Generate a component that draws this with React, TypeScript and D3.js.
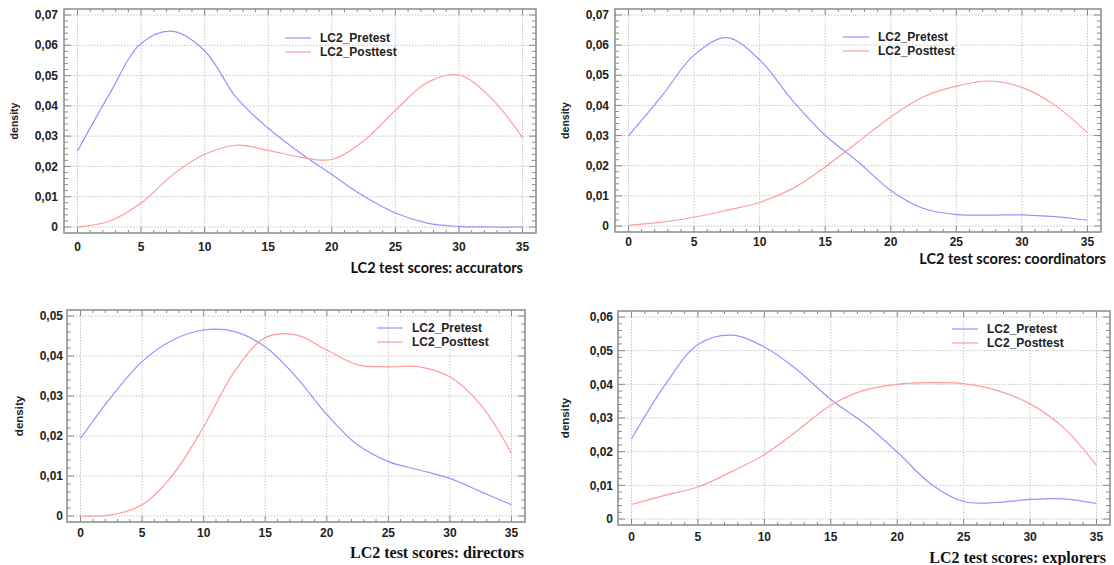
import * as d3 from 'd3'

// score grid shared by all density curves
const scores = [0, 2.5, 5, 7.5, 10, 12.5, 15, 17.5, 20, 22.5, 25, 27.5, 30, 32.5, 35]
const xTicks = [0, 5, 10, 15, 20, 25, 30, 35]
const seriesNames = ['LC2_Pretest', 'LC2_Posttest']

const accuratorsPre = [0.0251, 0.0438, 0.0606, 0.0646, 0.0582, 0.0427, 0.0326, 0.0245, 0.0173, 0.0102, 0.0046, 0.0013, 0.0002, 0, 0]
const accuratorsPost = [0, 0.0019, 0.0079, 0.0173, 0.024, 0.027, 0.0253, 0.0231, 0.0223, 0.0284, 0.0385, 0.0477, 0.0502, 0.0427, 0.0295]

const coordinatorsPre = [0.0299, 0.0429, 0.0567, 0.0625, 0.0551, 0.0417, 0.0301, 0.0213, 0.0118, 0.0058, 0.0038, 0.0036, 0.0037, 0.0031, 0.0019]
const coordinatorsPost = [0.0002, 0.0013, 0.0029, 0.0052, 0.0078, 0.0124, 0.0196, 0.0279, 0.0362, 0.0429, 0.0464, 0.0481, 0.046, 0.0401, 0.0309]

const directorsPre = [0.0194, 0.0298, 0.0386, 0.044, 0.0465, 0.0461, 0.0423, 0.0348, 0.0254, 0.0178, 0.0136, 0.0115, 0.0094, 0.0061, 0.0028]
const directorsPost = [0, 0.0003, 0.0028, 0.0103, 0.0223, 0.0361, 0.0446, 0.0453, 0.0415, 0.0378, 0.0373, 0.0373, 0.0348, 0.0278, 0.0157]

const explorersPre = [0.0238, 0.0397, 0.0518, 0.0546, 0.0511, 0.0442, 0.0355, 0.0285, 0.0199, 0.0105, 0.0052, 0.0049, 0.0058, 0.006, 0.0046]
const explorersPost = [0.0043, 0.007, 0.0095, 0.014, 0.0191, 0.0263, 0.0338, 0.0382, 0.04, 0.0405, 0.0402, 0.0382, 0.0342, 0.0272, 0.0159]

const BLUE = '#9494ff'
const RED = '#ff9c9c'
const FRAME = '#8a8a8a'
const GRID = '#c4c4c4'
const SANS = '"Liberation Sans", Arial, sans-serif'

type Panel = {
    title: string
    serif: boolean
    pre: number[]
    post: number[]
    yMax: number
    box: [number, number, number, number]
    labelX: number
    densityX: number
    densitySize: number
    tickY: number
    titleRight: number
    titleY: number
    legend: [number, number]
}

const panels: Panel[] = [
    { title: 'LC2 test scores: accurators', serif: false, pre: accuratorsPre, post: accuratorsPost, yMax: 0.07,
      box: [64, 9, 536, 233], labelX: 58, densityX: 18, densitySize: 10.5, tickY: 251, titleRight: 523, titleY: 273, legend: [285, 38] },
    { title: 'LC2 test scores: coordinators', serif: false, pre: coordinatorsPre, post: coordinatorsPost, yMax: 0.07,
      box: [615, 9, 1101, 232], labelX: 609, densityX: 569, densitySize: 10.5, tickY: 246, titleRight: 1106, titleY: 264, legend: [843, 37] },
    { title: 'LC2 test scores: directors', serif: true, pre: directorsPre, post: directorsPost, yMax: 0.05,
      box: [67, 310, 525, 522], labelX: 63, densityX: 23, densitySize: 11.5, tickY: 537, titleRight: 524, titleY: 558, legend: [377, 328] },
    { title: 'LC2 test scores: explorers', serif: true, pre: explorersPre, post: explorersPost, yMax: 0.06,
      box: [618, 311, 1110, 525], labelX: 613, densityX: 569, densitySize: 11.5, tickY: 541, titleRight: 1106, titleY: 563, legend: [952, 329] },
]

const fmt = (v: number) => (v === 0 ? '0' : v.toFixed(2).replace('.', ','))

function DensityPanel({ p }: { p: Panel }) {
    const [left, top, right, bottom] = p.box
    const x = d3.scaleLinear().domain([0, 35]).range([left + 13.5, right - 13.5])
    const y = d3.scaleLinear().domain([0, p.yMax]).range([bottom - 6, top + 6])
    const yMajor = d3.range(0, p.yMax + 1e-9, 0.01)
    const yMinor = d3.range(0, p.yMax + 1e-9, 0.002).filter(v => Math.abs(v / 0.01 - Math.round(v / 0.01)) > 1e-6)
    const xMinor = d3.range(0, 36, 1).filter(v => v % 5 !== 0)
    const line = d3.line<number>()
        .x((_, i) => x(scores[i]))
        .y(d => y(d))
        .curve(d3.curveCatmullRom.alpha(0.5))

    return (
        <g>
            {xTicks.map(t => (
                <line key={'gx' + t} x1={x(t)} x2={x(t)} y1={top} y2={bottom} stroke={GRID} strokeDasharray="1.5,1.5" />
            ))}
            {yMajor.map(t => (
                <line key={'gy' + t} x1={left} x2={right} y1={y(t)} y2={y(t)} stroke={GRID} strokeDasharray="1.5,1.5" />
            ))}
            {/* ticks on all sides, inward */}
            {xTicks.map(t => (
                <g key={'tx' + t} stroke={FRAME}>
                    <line x1={x(t)} x2={x(t)} y1={bottom} y2={bottom - 6} />
                    <line x1={x(t)} x2={x(t)} y1={top} y2={top + 6} />
                </g>
            ))}
            {xMinor.map(t => (
                <g key={'mx' + t} stroke={FRAME}>
                    <line x1={x(t)} x2={x(t)} y1={bottom} y2={bottom - 3} />
                    <line x1={x(t)} x2={x(t)} y1={top} y2={top + 3} />
                </g>
            ))}
            {yMajor.map(t => (
                <g key={'ty' + t} stroke={FRAME}>
                    <line x1={left} x2={left + 7} y1={y(t)} y2={y(t)} />
                    <line x1={right} x2={right - 7} y1={y(t)} y2={y(t)} />
                </g>
            ))}
            {yMinor.map(t => (
                <g key={'my' + t} stroke={FRAME}>
                    <line x1={left} x2={left + 4} y1={y(t)} y2={y(t)} />
                    <line x1={right} x2={right - 4} y1={y(t)} y2={y(t)} />
                </g>
            ))}
            <rect x={left} y={top} width={right - left} height={bottom - top} fill="none" stroke={FRAME} strokeWidth={1.5} />

            <path d={line(p.pre) || ''} fill="none" stroke={BLUE} strokeWidth={1.2} />
            <path d={line(p.post) || ''} fill="none" stroke={RED} strokeWidth={1.2} />

            {yMajor.map(t => (
                <text key={'ly' + t} x={p.labelX} y={y(t)} dy="0.35em" textAnchor="end"
                      fontFamily={SANS} fontWeight="bold" fontSize={12} fill="#222">{fmt(t)}</text>
            ))}
            {xTicks.map(t => (
                <text key={'lx' + t} x={x(t)} y={p.tickY} textAnchor="middle"
                      fontFamily={SANS} fontWeight="bold" fontSize={12} fill="#222">{t}</text>
            ))}
            <text transform={`translate(${p.densityX},${(top + bottom) / 2}) rotate(-90)`} textAnchor="middle"
                  fontFamily={SANS} fontWeight="bold" fontSize={p.densitySize} fill="#222">density</text>
            <text x={p.titleRight} y={p.titleY} textAnchor="end"
                  fontFamily={p.serif ? '"Liberation Serif", "Times New Roman", serif' : 'Lato, "Open Sans", sans-serif'}
                  fontWeight="bold" fontSize={p.serif ? 16 : 14.5} fill="#111">{p.title}</text>

            {seriesNames.map((name, i) => (
                <g key={name}>
                    <line x1={p.legend[0]} x2={p.legend[0] + 26} y1={p.legend[1] + i * 14} y2={p.legend[1] + i * 14}
                          stroke={i === 0 ? BLUE : RED} strokeWidth={1.2} />
                    <text x={p.legend[0] + 35} y={p.legend[1] + i * 14} dy="0.35em"
                          fontFamily={SANS} fontWeight="bold" fontSize={12} fill="#222">{name}</text>
                </g>
            ))}
        </g>
    )
}

export default function App() {
    return (
        <div style={{ position: 'absolute', left: 0, top: 0 }}>
            <svg width={1114} height={565} style={{ display: 'block', background: '#fff' }}>
                {panels.map(p => <DensityPanel key={p.title} p={p} />)}
            </svg>
        </div>
    )
}
